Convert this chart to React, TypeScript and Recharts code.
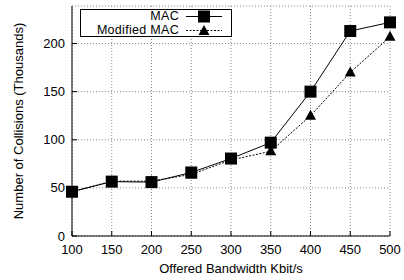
import React from 'react';
import { LineChart, Line, XAxis, YAxis, CartesianGrid, Legend } from 'recharts';

const bandwidth = [100, 150, 200, 250, 300, 350, 400, 450, 500];
const macCollisions = [46, 56.5, 56, 66, 80.5, 97, 150, 213, 222];
const modifiedCollisions = [46, 57, 57, 64, 79, 88, 125, 170, 207];
const xTicks = [100, 150, 200, 250, 300, 350, 400, 450, 500];
const yTicks = [0, 50, 100, 150, 200];

const data = bandwidth.map((bw, i) => ({
  bw,
  mac: macCollisions[i],
  modified: modifiedCollisions[i],
}));

const FONT = '"Liberation Sans", Arial, Helvetica, sans-serif';

const SquareDot = (props: any) => {
  const { cx, cy } = props;
  if (cx == null || cy == null) return null;
  return <rect x={cx - 6} y={cy - 6} width={12} height={12} fill="#000" />;
};

const TriangleDot = (props: any) => {
  const { cx, cy } = props;
  if (cx == null || cy == null) return null;
  return <path d={`M${cx},${cy - 6}L${cx + 5.5},${cy + 4}L${cx - 5.5},${cy + 4}Z`} fill="#000" />;
};

const BottomTick = (props: any) => {
  const { x, y, payload } = props;
  return (
    <g>
      <line x1={x} y1={y} x2={x} y2={y - 5} stroke="#000" />
      <text x={x} y={y + 18} textAnchor="middle" fontSize={13} fontFamily={FONT} fill="#000">
        {payload.value}
      </text>
    </g>
  );
};

const LeftTick = (props: any) => {
  const { x, y, payload } = props;
  return (
    <g>
      <line x1={x} y1={y} x2={x + 5} y2={y} stroke="#000" />
      <text x={x - 7} y={y + 4.5} textAnchor="end" fontSize={13} fontFamily={FONT} fill="#000">
        {payload.value}
      </text>
    </g>
  );
};

const TopTick = (props: any) => {
  const { x, y } = props;
  return <line x1={x} y1={y} x2={x} y2={y + 5} stroke="#000" />;
};

const RightTick = (props: any) => {
  const { x, y } = props;
  return <line x1={x} y1={y} x2={x - 5} y2={y} stroke="#000" />;
};

const LegendBox = () => {
  const rows = [
    { name: 'MAC', dash: undefined, marker: 'square' },
    { name: 'Modified MAC', dash: '2 1.5', marker: 'triangle' },
  ];
  return (
    <div
      style={{
        border: '1px solid #000',
        width: 150,
        height: 26,
        background: '#fff',
        fontFamily: FONT,
        fontSize: 12.5,
        lineHeight: '14px',
      }}
    >
      {rows.map((r) => (
        <div key={r.name} style={{ display: 'flex', alignItems: 'center', height: 14, marginTop: r.marker === 'square' ? -1 : 0 }}>
          <span style={{ width: 98, textAlign: 'right', color: '#000', whiteSpace: 'nowrap', letterSpacing: 0.3 }}>{r.name}</span>
          <svg width={40} height={13} style={{ marginLeft: 7 }}>
            <line x1={0} y1={6.5} x2={36} y2={6.5} stroke="#000" strokeDasharray={r.dash} />
            {r.marker === 'square' ? (
              <rect x={12} y={0.5} width={12} height={12} fill="#000" />
            ) : (
              <path d="M18,1L23.5,11L12.5,11Z" fill="#000" />
            )}
          </svg>
        </div>
      ))}
    </div>
  );
};

export default function App() {
  return (
    <div style={{ position: 'absolute', left: 0, top: 0, width: 404, height: 280, background: '#fff' }}>
      <LineChart width={404} height={280} data={data} margin={{ top: 6, right: 14, left: 0, bottom: 0 }}>
        <CartesianGrid stroke="#888" strokeDasharray="1 2" />
        <XAxis
          dataKey="bw"
          type="number"
          domain={[100, 500]}
          ticks={xTicks}
          height={44}
          tickSize={0}
          tickMargin={0}
          tick={<BottomTick />}
          axisLine={{ stroke: '#000' }}
          label={{ value: 'Offered Bandwidth Kbit/s', position: 'insideBottom', offset: 7, fontSize: 13, fontFamily: FONT, fill: '#000' }}
        />
        <XAxis
          xAxisId="top"
          dataKey="bw"
          type="number"
          orientation="top"
          domain={[100, 500]}
          ticks={xTicks}
          height={0}
          tickSize={0}
          tickMargin={0}
          tick={<TopTick />}
          axisLine={{ stroke: '#000' }}
        />
        <YAxis
          domain={[0, 239]}
          ticks={yTicks}
          width={72}
          tickSize={0}
          tickMargin={0}
          tick={<LeftTick />}
          axisLine={{ stroke: '#000' }}
          label={{ value: 'Number of Collisions (Thousands)', angle: -90, position: 'insideLeft', offset: 18, style: { textAnchor: 'middle' }, fontSize: 13, fontFamily: FONT, fill: '#000' }}
        />
        <YAxis
          yAxisId="right"
          orientation="right"
          domain={[0, 239]}
          ticks={yTicks}
          width={0}
          tickSize={0}
          tickMargin={0}
          tick={<RightTick />}
          axisLine={{ stroke: '#000' }}
        />
        <Legend
          layout="vertical"
          align="center"
          verticalAlign="middle"
          content={<LegendBox />}
          wrapperStyle={{ position: 'absolute', left: 80, top: 9, width: 152, height: 28 }}
        />
        <Line
          dataKey="mac"
          name="MAC"
          stroke="#000"
          strokeWidth={1}
          dot={<SquareDot />}
          activeDot={false}
          isAnimationActive={false}
        />
        <Line
          dataKey="modified"
          name="Modified MAC"
          stroke="#000"
          strokeWidth={1}
          strokeDasharray="2 1.5"
          dot={<TriangleDot />}
          activeDot={false}
          isAnimationActive={false}
        />
      </LineChart>
    </div>
  );
}
